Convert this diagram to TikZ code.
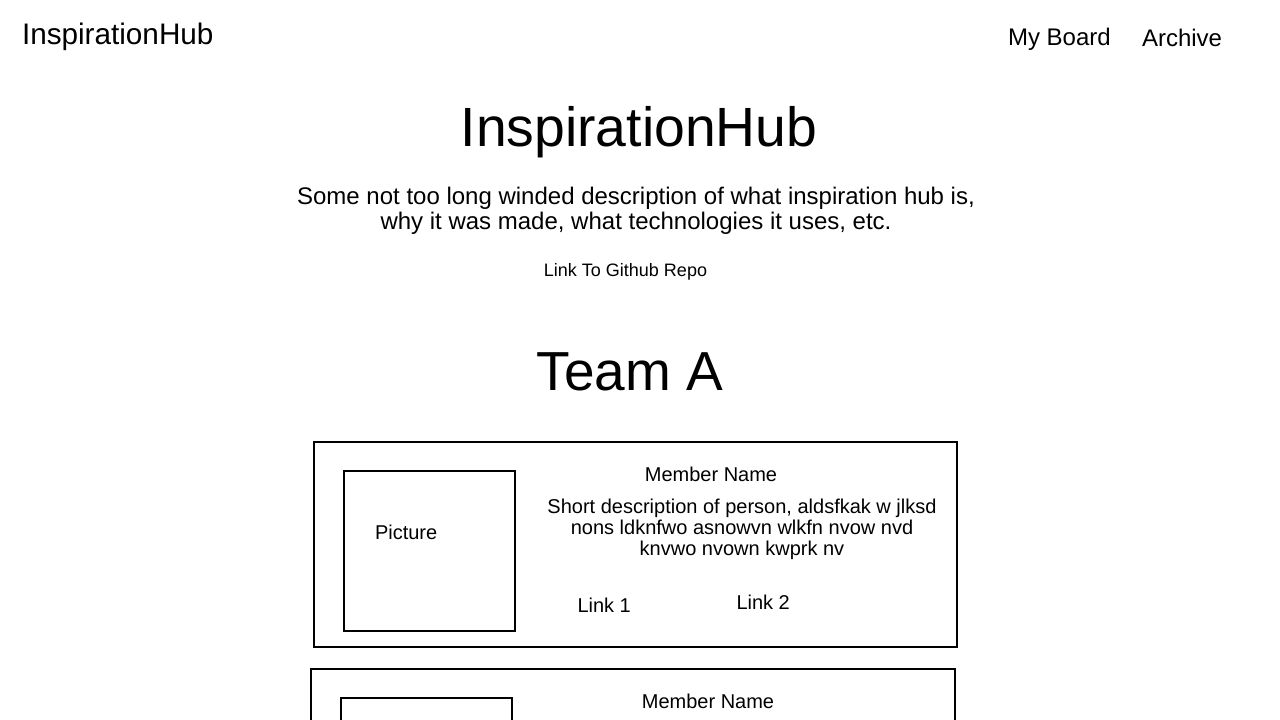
\documentclass[tikz,border=0pt]{standalone}
\usepackage{fontspec}
\setmainfont{Liberation Sans}
\begin{document}
\begin{tikzpicture}[x=1pt,y=-1pt,
  txt/.style={inner sep=0pt,outer sep=0pt,anchor=base},
  fs/.style={font=\fontsize{#1}{#1}\selectfont},
  frame/.style={draw=black,line width=1.5pt},
]
\useasboundingbox (0,0) rectangle (1280,720);
\clip (0,0) rectangle (1280,720);
\fill[white] (0,0) rectangle (1280,720);

% navigation bar
\node[txt,anchor=base west,fs=29.7] (brand) at (22,44) {InspirationHub};
\node[txt,anchor=base west,fs=24] (board) at (1008,45.5) {My Board};
\node[txt,anchor=base west,fs=24] (archive) at (1142,46.5) {Archive};

% heading and intro (multi-line nodes sit on their last baseline)
\node[txt,fs=55.3] (title) at (639,146) {InspirationHub};
\node[txt,align=center,font=\fontsize{24}{25}\selectfont] (intro) at (636,229.5)
  {Some not too long winded description of what inspiration hub is,\\why it was made, what technologies it uses, etc.};
\node[txt,fs=18] (repo) at (625.5,276.5) {Link To Github Repo};

% team section
\node[txt,fs=55] (team) at (630,390) {Team A};

% first member card
\draw[frame] (314,442) rectangle (957,647);
\draw[frame] (344,471) rectangle (515,631);
\node[txt,anchor=base west,fs=20] (pic1) at (375,539) {Picture};
\node[txt,fs=20] (name1) at (711,481) {Member Name};
\node[txt,align=center,font=\fontsize{20}{21}\selectfont] (desc1) at (742,555)
  {Short description of person, aldsfkak w jlksd\\nons ldknfwo asnowvn wlkfn nvow nvd\\knvwo nvown kwprk nv};
\node[txt,anchor=base west,fs=20] (link1) at (577.5,612) {Link 1};
\node[txt,anchor=base west,fs=20] (link2) at (736.5,609) {Link 2};

% second member card
\draw[frame] (311,669) rectangle (955,740);
\draw[frame] (341,698) rectangle (512,740);
\node[txt,fs=20] (name2) at (708,708) {Member Name};
\end{tikzpicture}
\end{document}
